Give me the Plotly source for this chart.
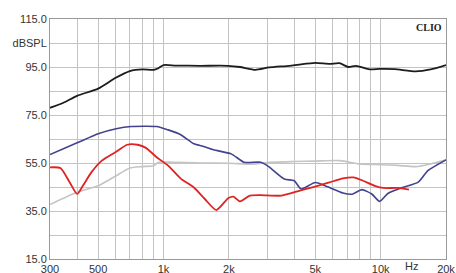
import plotly.graph_objects as go

# ---- data ----
black_f = [300, 344, 400, 500, 602, 700, 800, 900, 946, 1000, 1140, 1470, 1980, 2250, 2650, 3060, 3800, 4200, 5000, 5830, 6460, 7100, 7700, 8900, 9900, 11600, 14500, 17000, 20000]
black_db = [78, 80, 83, 86, 90.5, 93.3, 94, 93.8, 94.5, 95.8, 95.6, 95.5, 95.5, 95, 93.8, 94.8, 95.5, 96, 96.7, 96.3, 96.6, 95, 95.5, 94, 94.2, 94.1, 93.2, 94, 95.8]

blue_f = [300, 400, 500, 605, 710, 930, 1050, 1200, 1380, 1520, 1700, 2050, 2350, 2800, 3050, 3600, 4000, 4300, 5000, 5700, 6700, 7400, 8200, 9100, 9900, 10800, 12600, 14900, 16500, 20000]
blue_db = [58.5, 63.4, 67.2, 69.3, 70.2, 70.2, 68.8, 66.8, 63, 62, 60.5, 58.8, 55.3, 55.3, 53.5, 48.3, 47.6, 44.2, 46.9, 45.1, 42.5, 42, 43.9, 42.1, 39, 42.3, 44.8, 47, 51.8, 56.3]

red_f = [300, 335, 370, 400, 425, 465, 520, 600, 680, 760, 830, 930, 1050, 1200, 1380, 1550, 1750, 1990, 2100, 2250, 2500, 2800, 3500, 4250, 4950, 5800, 6700, 7500, 8300, 9400, 10300, 12000, 13500]
red_db = [53.2, 52.9, 46.9, 42.1, 45.5, 51.1, 56, 59.5, 62.6, 62.6, 61.3, 57.4, 53.9, 48.5, 44.8, 40, 35.4, 40.4, 41, 39, 41.4, 41.6, 41.4, 43.5, 45.1, 46.9, 48.6, 49, 47.6, 45.5, 44.6, 44.6, 43.9]

gray_f = [300, 400, 500, 600, 700, 800, 900, 950, 1100, 1500, 2000, 2600, 3000, 4000, 5000, 6500, 8000, 10000, 12000, 14500, 17000, 20000]
gray_db = [37.7, 42.8, 45.5, 49.5, 52.9, 53.5, 53.9, 55.3, 55.3, 55, 54.9, 54.5, 55.2, 55.6, 55.8, 56, 54.6, 54.3, 54, 53.5, 54.6, 56.3]

x_tickvals = [300, 400, 500, 600, 700, 800, 900, 1000, 2000, 3000, 4000, 5000, 6000, 7000, 8000, 9000, 10000, 20000]
x_ticktext = ["300", "", "500", "", "", "", "", "1k", "2k", "", "", "5k", "", "", "", "", "10k", "20k"]
y_tickvals = [15, 25, 35, 45, 55, 65, 75, 85, 95, 105, 115]
y_ticktext = ["15.0", "", "35.0", "", "55.0", "", "75.0", "", "95.0", "dBSPL", "115.0"]

fig = go.Figure()
fig.add_trace(go.Scatter(x=gray_f, y=gray_db, mode="lines", line=dict(color="#c4c4c4", width=1.6, shape="spline", smoothing=0.6)))
fig.add_trace(go.Scatter(x=blue_f, y=blue_db, mode="lines", line=dict(color="#42428e", width=1.6, shape="spline", smoothing=0.6)))
fig.add_trace(go.Scatter(x=red_f, y=red_db, mode="lines", line=dict(color="#e02222", width=1.8, shape="spline", smoothing=0.6)))
fig.add_trace(go.Scatter(x=black_f, y=black_db, mode="lines", line=dict(color="#1c1c1c", width=1.8, shape="spline", smoothing=0.6)))

fig.update_layout(
    width=456, height=273,
    margin=dict(l=50, r=10, t=19, b=14),
    paper_bgcolor="white", plot_bgcolor="white",
    showlegend=False,
    font=dict(family="Liberation Sans, Arial, sans-serif", size=11, color="#333333"),
)
fig.update_xaxes(
    type="log", range=[2.4771, 4.3010],
    tickmode="array", tickvals=x_tickvals, ticktext=x_ticktext,
    showgrid=True, gridcolor="#c4c4c4", gridwidth=1,
    showline=True, linecolor="#999999", linewidth=1, mirror=True,
    ticks="", zeroline=False, ticklabelstandoff=0, automargin=False,
)
fig.update_yaxes(
    range=[15, 115],
    tickmode="array", tickvals=y_tickvals, ticktext=y_ticktext,
    showgrid=True, gridcolor="#c4c4c4", gridwidth=1,
    showline=True, linecolor="#999999", linewidth=1, mirror=True,
    ticks="", zeroline=False, automargin=False,
)
fig.add_annotation(x=1.0, y=1.0, xref="paper", yref="paper", xanchor="right", yanchor="top",
                   text="<b>CLIO</b>", showarrow=False, xshift=-2, yshift=-1,
                   font=dict(family="Liberation Serif, DejaVu Serif, serif", size=10, color="#222222"))
fig.add_annotation(x=4.14, y=0, xref="x", yref="paper", yanchor="top",
                   text="Hz", showarrow=False, yshift=1,
                   font=dict(family="Liberation Sans, Arial, sans-serif", size=11, color="#333333"))

fig.write_html("out.html", config={"displayModeBar": False},
               post_script="document.body.style.margin='0';document.body.style.overflow='hidden';")
